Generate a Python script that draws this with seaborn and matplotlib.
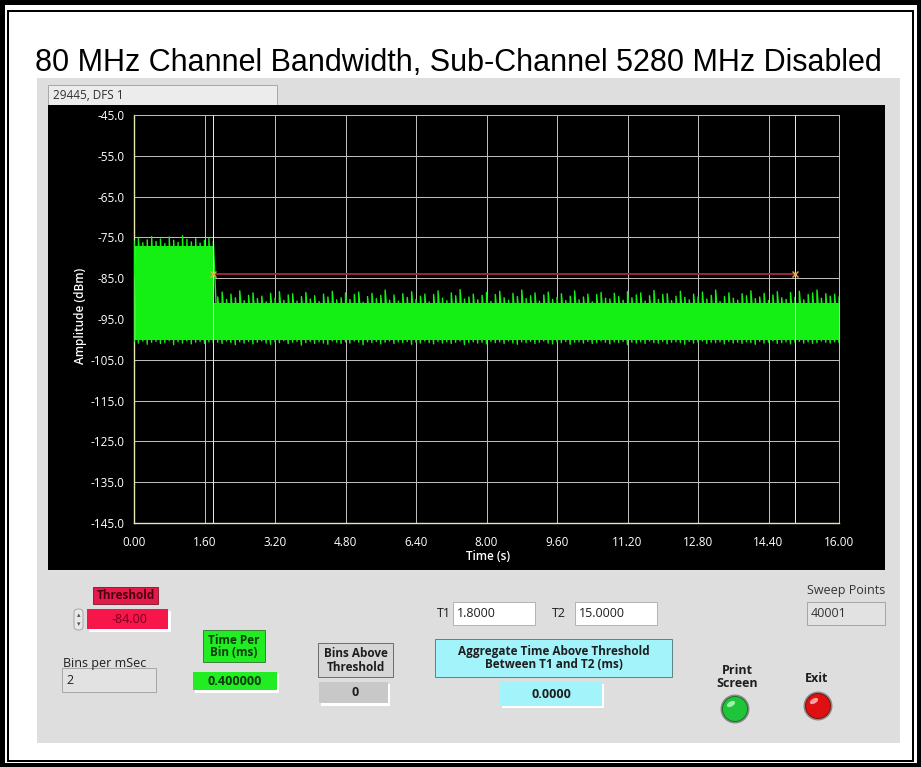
import numpy as np
import pandas as pd
import matplotlib
matplotlib.use("Agg")
import matplotlib.pyplot as plt
import seaborn as sns
from matplotlib.patches import Rectangle, Circle, Ellipse, FancyBboxPatch

# ---------------- data ----------------
TITLE = "80 MHz Channel Bandwidth, Sub-Channel 5280 MHz Disabled"
TRACE_NAME = "29445, DFS 1"
X_TICKS = [0.00, 1.60, 3.20, 4.80, 6.40, 8.00, 9.60, 11.20, 12.80, 14.40, 16.00]
Y_TICKS = [-45.0, -55.0, -65.0, -75.0, -85.0, -95.0, -105.0, -115.0, -125.0, -135.0, -145.0]
X_LABEL = "Time (s)"
Y_LABEL = "Amplitude (dBm)"

THRESHOLD = -84.0
T1 = 1.8
T2 = 15.0
BINS_PER_MSEC = 2
TIME_PER_BIN_MS = 0.4
BINS_ABOVE = 0
AGG_TIME_MS = 0.0
SWEEP_POINTS = 40001

# body of the trace per segment
SEGMENT_START = [0.0, 1.8]
SEGMENT_END = [1.8, 16.0]
SEGMENT_BODY_TOP = [-77.0, -91.2]
SEGMENT_BODY_FLOOR = [-100.2, -100.2]

# per-bin peaks / floors, one bin every 0.1 s (0.0 ... 16.0 s)
TIME_S = np.linspace(0.0, 16.0, 161)
PEAK_DBM = [
    -75.8, -75.1, -76.3, -75.6, -74.8, -76.0, -75.4, -76.5, -74.9, -75.7,
    -76.2, -74.6, -75.5, -76.1, -75.3, -76.4, -75.7, -75.2, -75.9,
    -89.6, -88.4, -90.2, -88.9, -89.8, -88.1, -90.5, -89.2, -88.6, -90.0,
    -89.4, -90.8, -88.7, -89.9, -88.3, -90.4, -89.1, -88.8, -90.6, -89.5,
    -88.5, -90.1, -89.3, -90.7, -88.9, -89.6, -88.2, -90.3, -89.8, -88.6,
    -90.2, -89.0, -88.4, -90.9, -89.5, -88.7, -90.0, -89.2, -87.9, -90.4,
    -89.1, -90.6, -88.8, -89.7, -88.3, -90.2, -89.4, -88.9, -90.8, -89.0,
    -88.1, -89.9, -90.5, -88.6, -89.3, -87.8, -90.1, -89.6, -88.9, -90.3,
    -89.2, -88.5, -90.7, -89.0, -88.2, -89.8, -90.4, -88.7, -89.5, -87.9,
    -90.0, -89.3, -88.6, -90.6, -89.1, -88.4, -90.2, -89.7, -88.8, -90.5,
    -89.4, -88.1, -90.3, -89.6, -88.9, -90.8, -89.0, -88.5, -89.9, -90.1,
    -88.7, -89.5, -90.4, -88.3, -89.8, -89.1, -88.6, -90.6, -89.3, -88.0,
    -90.2, -89.0, -88.8, -90.5, -89.4, -88.2, -89.7, -90.3, -88.9, -89.6,
    -88.4, -90.1, -89.2, -87.9, -90.7, -89.5, -88.6, -89.9, -90.4, -88.8,
    -89.3, -88.1, -90.0, -89.6, -88.7, -90.5, -89.1, -88.3, -89.8, -90.2,
    -88.5, -89.7, -88.2, -90.3, -89.0, -88.6, -87.9, -89.9, -88.8, -89.4,
    -88.9, -89.6,
]
FLOOR_DBM = [
    -100.6, -100.9, -100.4, -101.2, -100.7, -100.5, -101.0, -100.8, -100.3, -101.3,
    -100.6, -100.9, -100.4, -101.1, -100.7, -100.5, -101.0, -100.6, -100.8,
    -100.7, -101.0, -100.4, -100.8, -101.3, -100.6, -100.9, -100.5, -101.1, -100.7,
    -100.4, -100.9, -101.2, -100.6, -100.8, -100.3, -101.0, -100.7, -100.5, -101.4,
    -100.8, -100.5, -101.0, -100.6, -100.9, -101.2, -100.4, -100.7, -101.0, -100.6,
    -100.9, -100.4, -100.7, -101.3, -100.6, -100.8, -100.5, -101.1, -100.7, -100.4,
    -101.0, -100.6, -100.8, -100.5, -101.2, -100.7, -100.9, -100.4, -100.8, -101.1,
    -100.5, -100.9, -100.6, -101.0, -100.7, -100.4, -101.3, -100.8, -100.6, -100.9,
    -100.7, -101.1, -100.5, -100.8, -100.6, -101.0, -100.4, -100.9, -101.2, -100.6,
    -100.8, -100.5, -101.0, -100.7, -100.4, -100.9, -101.1, -100.6, -100.8, -100.5,
    -101.2, -100.7, -100.6, -100.9, -100.5, -101.0, -100.8, -100.4, -100.7, -101.1,
    -100.6, -100.8, -100.5, -101.3, -100.7, -100.9, -100.6, -101.0, -100.4, -100.8,
    -100.9, -100.5, -101.1, -100.7, -100.6, -100.8, -101.2, -100.5, -100.9, -100.7,
    -100.4, -101.0, -100.7, -100.8, -100.6, -101.1, -100.5, -100.9, -100.7, -101.0,
    -100.6, -100.8, -101.2, -100.5, -100.9, -100.7, -100.4, -101.0, -100.8, -100.6,
    -101.1, -100.7, -100.5, -100.9, -100.6, -101.0, -100.8, -100.4, -100.7, -100.9,
    -100.6, -100.8,
]

# ---------------- styling ----------------
W, H = 921, 767
UI = ["Open Sans", "DejaVu Sans"]
TITLE_FONT = ["Liberation Sans", "DejaVu Sans"]
PX = 0.72  # one pixel in points at dpi 100

sns.set_theme(style="dark")
plt.rcParams["font.family"] = UI

fig = plt.figure(figsize=(W / 100, H / 100), dpi=100)
fig.patch.set_facecolor("white")

bg = fig.add_axes([0, 0, 1, 1], zorder=0)
bg.set_xlim(0, W)
bg.set_ylim(H, 0)
bg.axis("off")


def box(x0, y0, x1, y1, fc, ec="none", lw=1.0, z=1, fill=True):
    bg.add_patch(Rectangle((x0, y0), x1 - x0, y1 - y0, facecolor=fc if fill else "none",
                           edgecolor=ec, linewidth=lw * PX, zorder=z, fill=fill))


def txt(x, y, s, size=9, ha="left", va="center", color="#1e1e1e", weight="normal", fam=UI, z=5, **kw):
    bg.text(x, y, s, fontsize=size, ha=ha, va=va, color=color, fontweight=weight,
            family=fam, zorder=z, **kw)


# outer double frame
box(2, 2, W - 2, H - 2, None, ec="black", lw=5, fill=False, z=10)
box(8, 11, W - 8, H - 6, None, ec="black", lw=2, fill=False, z=10)

# title
txt(35, 71, TITLE, size=22, va="baseline", color="black", fam=TITLE_FONT)

# gray front panel
box(37, 78, 900, 743, "#dedede", z=1)

# trace name box and black graph panel
box(48, 85, 277, 105, "#ececec", ec="#a8a8a8", lw=1, z=2)
txt(53, 95.5, TRACE_NAME, size=8.5, color="#303030")
box(48, 105, 885, 570, "black", z=2)

# axis labels (white, inside black panel)
txt(80, 316, Y_LABEL, size=8.5, ha="center", color="white", weight="semibold", rotation=90)
txt(488, 556, X_LABEL, size=8.5, ha="center", color="white", weight="semibold")

# ---------------- graph ----------------
ax = fig.add_axes([134 / W, 1 - 523 / H, (839 - 134) / W, (523 - 115) / H], zorder=3)
ax.set_facecolor("black")
ax.set_xlim(X_TICKS[0], X_TICKS[-1])
ax.set_ylim(Y_TICKS[-1], Y_TICKS[0])
ax.set_xticks(X_TICKS)
ax.set_xticklabels([f"{v:.2f}" for v in X_TICKS])
ax.set_yticks(Y_TICKS)
ax.set_yticklabels([f"{v:.1f}" for v in Y_TICKS])
ax.tick_params(axis="both", length=0, colors="white", labelsize=8.5)
ax.tick_params(axis="y", pad=7)
ax.tick_params(axis="x", pad=9)
ax.grid(True, color="#bdbdbd", linewidth=1.0 * PX)
ax.set_axisbelow(True)
for side in ["top", "right"]:
    ax.spines[side].set_color("#bdbdbd")
    ax.spines[side].set_linewidth(1.0 * PX)
for side in ["left", "bottom"]:
    ax.spines[side].set_color("#e6e6b0")
    ax.spines[side].set_linewidth(1.4 * PX)

GREEN = "#14f014"
# solid body of each segment
for s0, s1, top, flo in zip(SEGMENT_START, SEGMENT_END, SEGMENT_BODY_TOP, SEGMENT_BODY_FLOOR):
    ax.fill_between([s0, s1], [flo, flo], [top, top], color=GREEN, linewidth=0, zorder=2)

# per-bin min/max trace (drawn as a min-max zig-zag)
trace = pd.DataFrame({
    "t": np.repeat(TIME_S, 2),
    "dbm": np.column_stack([FLOOR_DBM, PEAK_DBM]).ravel(),
})
sns.lineplot(data=trace, x="t", y="dbm", estimator=None, sort=False, color=GREEN,
             linewidth=1.4 * PX, ax=ax, zorder=3)

# cursors
for t in (T1, T2):
    ax.axvline(t, color="#f4f47c", linewidth=1.0 * PX, zorder=4)

# threshold line between the cursors
thr = pd.DataFrame({"t": [T1, T2], "dbm": [THRESHOLD, THRESHOLD]})
sns.lineplot(data=thr, x="t", y="dbm", color="#a82a3e", linewidth=1.8 * PX, ax=ax, zorder=5)
ax.plot(thr["t"], thr["dbm"], linestyle="none", marker="x", color="#e8b048",
        markersize=4.5, markeredgewidth=1.0, zorder=6)
ax.set_xlabel("")
ax.set_ylabel("")

# ---------------- control panel ----------------
DARK = "#1e1e1e"
# threshold
box(93, 587, 158, 604, "#e41a4a", ec="#7a1020", lw=0.8, z=2)
txt(125.5, 595.5, "Threshold", size=8.5, ha="center", color="#4a0010", weight="bold")
box(89, 611, 171, 632, "white", z=2)
box(87, 609, 168, 629, "#f6164c", z=3)
txt(129, 619.5, f"{THRESHOLD:.2f}", size=9, ha="center", color="#7a0016")
bg.add_patch(FancyBboxPatch((74, 609), 9, 21, boxstyle="round,pad=0,rounding_size=4",
                            facecolor="#e8e8e8", edgecolor="#9a9a9a", linewidth=0.8 * PX, zorder=3))
txt(78.5, 615, "▴", size=5, ha="center", color="#555555", fam=["DejaVu Sans"])
txt(78.5, 624, "▾", size=5, ha="center", color="#555555", fam=["DejaVu Sans"])

# bins per msec
txt(63, 663, "Bins per mSec", size=9, color=DARK)
box(62, 668, 156, 692, "#e2e2e2", ec="#a6a6a6", lw=1, z=2)
txt(66, 680.5, f"{BINS_PER_MSEC}", size=9, color=DARK)

# time per bin
box(203, 630, 265, 662, "#22ec22", ec="#2a6a2a", lw=0.8, z=2)
txt(234, 646.5, "Time Per\nBin (ms)", size=8.5, ha="center", color="#0e3a0e", weight="bold",
    linespacing=1.0)
box(195, 674, 279, 693, "white", z=2)
box(193, 672, 277, 690, "#22ec22", z=3)
txt(235, 681.5, f"{TIME_PER_BIN_MS:.6f}", size=9, ha="center", color="#0e3a0e", weight="bold")

# bins above threshold
box(318, 643, 393, 677, "#d6d6d6", ec="#555555", lw=0.8, z=2)
txt(355.5, 660.5, "Bins Above\nThreshold", size=8.5, ha="center", color=DARK, weight="bold",
    linespacing=1.05)
box(321, 684, 390, 706, "white", z=2)
box(319, 682, 388, 703, "#c8c8c8", z=3)
txt(355, 692.5, f"{BINS_ABOVE}", size=9, ha="center", color=DARK, weight="bold")

# T1 / T2
txt(437, 613.5, "T1", size=9, color=DARK)
box(453, 602, 535, 625, "white", ec="#b4b4b4", lw=1, z=2)
txt(457, 613.5, f"{T1:.4f}", size=9, color=DARK)
txt(552, 613.5, "T2", size=9, color=DARK)
box(575, 602, 657, 625, "white", ec="#b4b4b4", lw=1, z=2)
txt(579, 613.5, f"{T2:.4f}", size=9, color=DARK)

# aggregate time
box(435, 639, 672, 677, "#a2f4fa", ec="#4a6a6e", lw=0.8, z=2)
txt(553.5, 658, "Aggregate Time Above Threshold\nBetween T1 and T2 (ms)", size=8.5,
    ha="center", color=DARK, weight="bold", linespacing=1.05)
box(502, 684, 604, 708, "white", z=2)
box(500, 682, 602, 706, "#a2f4fa", z=3)
txt(551, 694.5, f"{AGG_TIME_MS:.4f}", size=9, ha="center", color=DARK, weight="bold")

# sweep points
txt(807, 590.5, "Sweep Points", size=9, color="#333333")
box(807, 602, 885, 625, "#e2e2e2", ec="#a6a6a6", lw=1, z=2)
txt(811, 613.5, f"{SWEEP_POINTS}", size=9, color="#333333")

# buttons
txt(737, 677, "Print\nScreen", size=9, ha="center", color=DARK, weight="bold", linespacing=1.05)
bg.add_patch(Circle((735, 709), 14.5, facecolor="#8a8a8a", edgecolor="none", zorder=2))
bg.add_patch(Circle((735, 709), 12.5, facecolor="#1fc43a", edgecolor="#0d6a1a", linewidth=0.8 * PX, zorder=3))
bg.add_patch(Ellipse((731, 704), 9, 5, angle=-30, facecolor="#9ff0a8", edgecolor="none", zorder=4))

txt(817, 678.5, "Exit", size=9, ha="center", color=DARK, weight="bold")
bg.add_patch(Circle((818, 706), 14.5, facecolor="#8a8a8a", edgecolor="none", zorder=2))
bg.add_patch(Circle((818, 706), 12.5, facecolor="#e01010", edgecolor="#700808", linewidth=0.8 * PX, zorder=3))
bg.add_patch(Ellipse((814, 701), 9, 5, angle=-30, facecolor="#f6a0a0", edgecolor="none", zorder=4))

fig.savefig("out.png", dpi=100, facecolor=fig.get_facecolor())
